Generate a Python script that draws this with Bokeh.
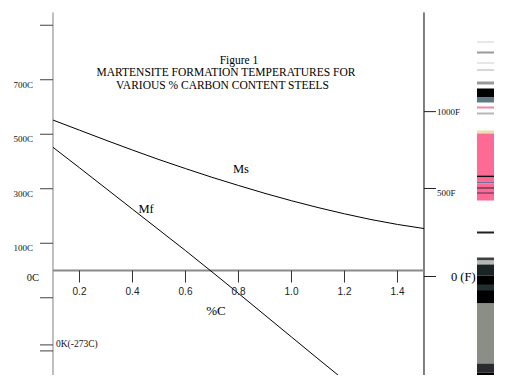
from bokeh.plotting import figure
from bokeh.embed import file_html
from bokeh.resources import INLINE
from bokeh.core.properties import value

# ---- data ----
carbon_pct = [0.1, 0.2, 0.3, 0.4, 0.5, 0.6, 0.7, 0.8, 0.9, 1.0, 1.1, 1.2, 1.3, 1.4, 1.5]
ms_temp_c = [552, 515, 478, 442, 407, 374, 342, 312, 283, 256, 231, 208, 187, 169, 154]
mf_temp_c = [452, 377, 301, 225, 149, 73, -5, -84, -164, -244, -324, -403, -483, -563, -643]

x_ticks = [0.2, 0.4, 0.6, 0.8, 1.0, 1.2, 1.4]
x_tick_labels = ["0.2", "0.4", "0.6", "0.8", "1.0", "1.2", "1.4"]

c_ticks = [900, 700, 500, 300, 100, -100, -273, -295]
c_label_ticks = [700, 500, 300, 100]
c_tick_labels = ["700C", "500C", "300C", "100C"]

f_tick_pos_c = [583, 301, -22]
f_tick_labels = ["1000F", "500F"]
f_zero_label = ["0 (F)"]

title_lines = ["Figure 1",
               "MARTENSITE FORMATION TEMPERATURES FOR",
               "VARIOUS % CARBON CONTENT STEELS"]

# scan-artifact strip at the right edge of the original image (in degC units)
band_top = [840.4, 803.7, 763.3, 737.6, 693.6, 667.9, 634.9, 601.8, 579.8, 513.8,
            502.8, 348.6, 341.3, 326.6, 319.3, 304.6, 286.2, 143.1, 47.7, 36.7,
            22.0, -18.3, -51.4, -121.1, -341.3, -374.3, -403.7]
band_bottom = [836.7, 796.3, 759.6, 733.9, 682.6, 634.9, 616.5, 594.5, 572.5, 502.8,
               348.6, 341.3, 326.6, 319.3, 256.9, 300.9, 282.6, 135.8, 36.7, 22.0,
               -18.3, -121.1, -73.4, -341.3, -374.3, -403.7, -460.0]
band_color = ["#d0d0d0", "#9a9a9a", "#d0d0d0", "#b0b0b0", "#9a9a9a", "#000000",
              "#5f7a86", "#e98aa8", "#b8b8b8", "#e8e0b0", "#fe6a96", "#101010",
              "#fe6a96", "#7a6a9a", "#fe6a96", "#302030", "#503050", "#202020",
              "#404040", "#b8b8b8", "#1a2424", "#000000", "#203030", "#8a8e86",
              "#2a2a30", "#000000", "#7a7a7a"]

X_MIN, X_MAX = 0.1, 1.5
T_AXIS_TOP = 947
T_AXIS_BOTTOM = -460
STRIP_X0, STRIP_X1 = 1.7, 1.9

PX_X = 265.0     # pixels per 1 %C
PX_T = 0.2725    # pixels per 1 degC

p = figure(width=494, height=375,
           x_range=(-0.09811, 1.76604), y_range=(-385.3, 990.8),
           output_backend="svg", toolbar_location=None,
           x_axis_location=None, y_axis_location=None, min_border=0)
p.grid.visible = False
p.outline_line_color = None
p.background_fill_color = "white"
p.border_fill_color = "white"

# artifact strip
p.quad(left=[STRIP_X0] * len(band_top), right=[STRIP_X1] * len(band_top),
       top=band_top, bottom=band_bottom, fill_color=band_color, line_color=None)

# axes
p.segment(x0=[X_MIN], y0=[T_AXIS_BOTTOM], x1=[X_MIN], y1=[T_AXIS_TOP],
          line_color="#808080", line_width=1)
p.segment(x0=[X_MAX], y0=[T_AXIS_BOTTOM], x1=[X_MAX], y1=[T_AXIS_TOP],
          line_color="#000000", line_width=1)
p.segment(x0=[X_MIN], y0=[0], x1=[X_MAX], y1=[0],
          line_color="#8a8a8a", line_width=2)

# ticks
p.segment(x0=x_ticks, y0=[0] * len(x_ticks), x1=x_ticks,
          y1=[-12 / PX_T] * len(x_ticks), line_color="#333333", line_width=1)
p.segment(x0=[X_MIN - 13 / PX_X] * len(c_ticks), y0=c_ticks,
          x1=[X_MIN] * len(c_ticks), y1=c_ticks, line_color="#404040", line_width=1)
p.segment(x0=[X_MAX] * len(f_tick_pos_c), y0=f_tick_pos_c,
          x1=[X_MAX + 12 / PX_X] * len(f_tick_pos_c), y1=f_tick_pos_c,
          line_color="#202020", line_width=1)

# curves
p.line(carbon_pct, ms_temp_c, line_color="black", line_width=1)
p.line(carbon_pct, mf_temp_c, line_color="black", line_width=1)

serif = value("Liberation Serif")
sans = value("Liberation Sans")

# title
p.text(x=[0.802, 0.753, 0.740], y=[774, 726.6, 678.9], text=title_lines,
       text_font=serif, text_font_size="11.5px", text_align="center",
       text_baseline="middle", text_color="black")

# curve labels
p.text(x=[0.809, 0.451], y=[374, 224], text=["Ms", "Mf"], text_font=serif,
       text_font_size="12.5px", text_align="center", text_baseline="middle",
       text_color="black")

# x tick labels and axis title
p.text(x=x_ticks, y=[0] * len(x_ticks), text=x_tick_labels, y_offset=20,
       text_font=sans, text_font_size="10px", text_align="center",
       text_baseline="middle", text_color="#222222")
p.text(x=[0.715], y=[0], text=["%C"], y_offset=40, text_font=serif,
       text_font_size="13px", text_align="center", text_baseline="middle",
       text_color="black")

# left (C) labels
p.text(x=[X_MIN] * len(c_label_ticks), y=c_label_ticks, text=c_tick_labels,
       x_offset=-20, y_offset=5, text_font=serif, text_font_size="9px",
       text_align="right", text_baseline="middle", text_color="#111111")
p.text(x=[X_MIN], y=[0], text=["0C"], x_offset=-14, y_offset=7, text_font=serif,
       text_font_size="10.5px", text_align="right", text_baseline="middle",
       text_color="#111111")
p.text(x=[X_MIN], y=[-273], text=["0K(-273C)"], x_offset=3, y_offset=-1,
       text_font=serif, text_font_size="9.5px", text_align="left",
       text_baseline="middle", text_color="#111111")

# right (F) labels
p.text(x=[X_MAX] * 2, y=f_tick_pos_c[:2], text=f_tick_labels, x_offset=13,
       y_offset=[0, 5], text_font=serif, text_font_size="9px", text_align="left",
       text_baseline="middle", text_color="#111111")
p.text(x=[X_MAX], y=f_tick_pos_c[2:], text=f_zero_label, x_offset=27, y_offset=1,
       text_font=serif, text_font_size="12.5px", text_align="left",
       text_baseline="middle", text_color="black")

open("out.html", "w").write(file_html(p, INLINE))
